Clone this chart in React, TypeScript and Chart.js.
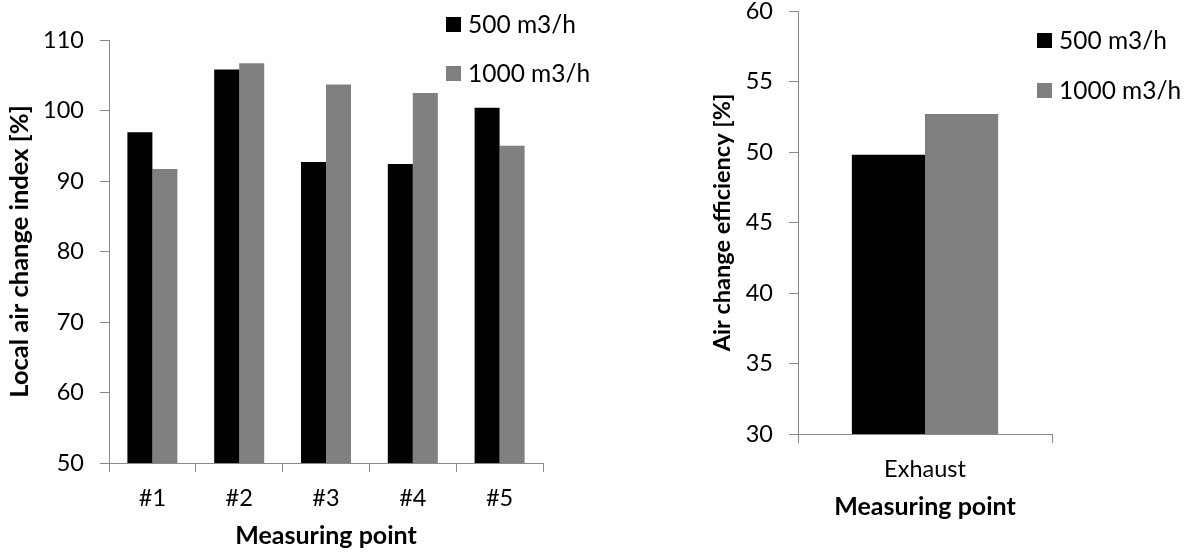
import React, { useEffect, useRef } from "react";
import { Chart, registerables } from "chart.js";

Chart.register(...registerables);

const FONT = "Lato, 'Open Sans', sans-serif";
const AXIS_COLOR = "#898989";

const seriesLabels = ["500 m3/h", "1000 m3/h"];
const seriesColors = ["#000000", "#808080"];

// Left panel: local air change index per measuring point
const pointCategories = ["#1", "#2", "#3", "#4", "#5"];
const pointValues500 = [96.9, 105.8, 92.7, 92.4, 100.4];
const pointValues1000 = [91.7, 106.7, 103.7, 102.5, 95.0];
const pointYRange = [50, 110];
const pointYStep = 10;

// Right panel: air change efficiency at the exhaust
const exhaustCategories = ["Exhaust"];
const exhaustValues500 = [49.8];
const exhaustValues1000 = [52.7];
const exhaustYRange = [30, 60];
const exhaustYStep = 5;

type Box = { left: number; top: number; width: number; height: number };
type Pad = { left: number; right: number; top: number; bottom: number };

type PanelProps = {
  frame: Box;
  pad: Pad;
  yAxisWidth: number;
  xAxisHeight: number;
  categories: string[];
  series: number[][];
  yRange: number[];
  yStep: number;
  yTitle: string;
  yTitleSize: number;
  xTitle: string;
};

function BarPanel(props: PanelProps) {
  const ref = useRef<HTMLCanvasElement | null>(null);
  useEffect(() => {
    if (!ref.current) return;
    const yHalf = (props.yTitleSize * 1.2) / 2;
    const chart = new Chart(ref.current, {
      type: "bar",
      data: {
        labels: props.categories,
        datasets: props.series.map((values, i) => ({
          label: seriesLabels[i],
          data: values,
          backgroundColor: seriesColors[i],
          borderWidth: 0,
          categoryPercentage: 0.576,
          barPercentage: 1,
        })),
      },
      options: {
        responsive: false,
        animation: false,
        devicePixelRatio: 1,
        layout: { padding: props.pad },
        plugins: {
          legend: { display: false },
          tooltip: { enabled: false },
          title: { display: false },
        },
        scales: {
          x: {
            type: "category",
            offset: true,
            grid: {
              offset: true,
              display: true,
              drawOnChartArea: false,
              drawTicks: true,
              tickLength: 9,
              color: AXIS_COLOR,
              lineWidth: 1,
            },
            border: { display: true, color: AXIS_COLOR, width: 1 },
            ticks: {
              color: "#000",
              font: { family: FONT, size: 23.5 },
              padding: 12,
              maxRotation: 0,
              autoSkip: false,
            },
            title: {
              display: true,
              text: props.xTitle,
              color: "#000",
              font: { family: FONT, size: 25, weight: "bold" },
              padding: { top: 0, bottom: 2 },
            },
            afterFit: (s: any) => {
              s.height = props.xAxisHeight;
            },
          },
          y: {
            type: "linear",
            min: props.yRange[0],
            max: props.yRange[1],
            grid: {
              display: true,
              drawOnChartArea: false,
              drawTicks: true,
              tickLength: 9,
              color: AXIS_COLOR,
              lineWidth: 1,
            },
            border: { display: true, color: AXIS_COLOR, width: 1 },
            ticks: {
              stepSize: props.yStep,
              color: "#000",
              font: { family: FONT, size: 23.5, lineHeight: 1 },
              padding: 16,
            },
            title: {
              display: true,
              text: props.yTitle,
              color: "#000",
              font: { family: FONT, size: props.yTitleSize, weight: "bold" },
              padding: { top: 19.4 - yHalf, bottom: 0 },
            },
            afterFit: (s: any) => {
              s.width = props.yAxisWidth;
            },
          },
        },
      } as any,
    });
    return () => chart.destroy();
  }, []);
  const f = props.frame;
  return (
    <canvas
      ref={ref}
      width={f.width}
      height={f.height}
      style={{
        position: "absolute",
        left: f.left,
        top: f.top,
        width: f.width,
        height: f.height,
        display: "block",
      }}
    />
  );
}

function Legend({ left, top, gap }: { left: number; top: number; gap: number }) {
  return (
    <div style={{ position: "absolute", left, top }}>
      {seriesLabels.map((label, i) => (
        <div
          key={label}
          style={{
            display: "flex",
            alignItems: "center",
            height: 28,
            marginBottom: i === 0 ? gap : 0,
            fontFamily: FONT,
            fontSize: 24.5,
            lineHeight: "28px",
            color: "#000",
            whiteSpace: "nowrap",
          }}
        >
          <span
            style={{
              display: "inline-block",
              width: 15,
              height: 15,
              background: seriesColors[i],
              marginRight: 7,
            }}
          />
          <span>{label}</span>
        </div>
      ))}
    </div>
  );
}

export default function App() {
  return (
    <div
      style={{
        position: "fixed",
        left: 0,
        top: 0,
        width: 1185,
        height: 553,
        background: "#fff",
        overflow: "hidden",
      }}
    >
      <BarPanel
        frame={{ left: 0, top: -20, width: 600, height: 573 }}
        pad={{ left: 0, right: 57, top: 60, bottom: 0 }}
        yAxisWidth={109}
        xAxisHeight={90}
        categories={pointCategories}
        series={[pointValues500, pointValues1000]}
        yRange={pointYRange}
        yStep={pointYStep}
        yTitle="Local air change index [%]"
        yTitleSize={25.5}
        xTitle="Measuring point"
      />
      <BarPanel
        frame={{ left: 600, top: -20, width: 585, height: 573 }}
        pad={{ left: 103, right: 133, top: 31, bottom: 29 }}
        yAxisWidth={95}
        xAxisHeight={90}
        categories={exhaustCategories}
        series={[exhaustValues500, exhaustValues1000]}
        yRange={exhaustYRange}
        yStep={exhaustYStep}
        yTitle="Air change efficiency [%]"
        yTitleSize={23.5}
        xTitle="Measuring point"
      />
      <Legend left={446} top={10} gap={21} />
      <Legend left={1037} top={26} gap={22} />
    </div>
  );
}
